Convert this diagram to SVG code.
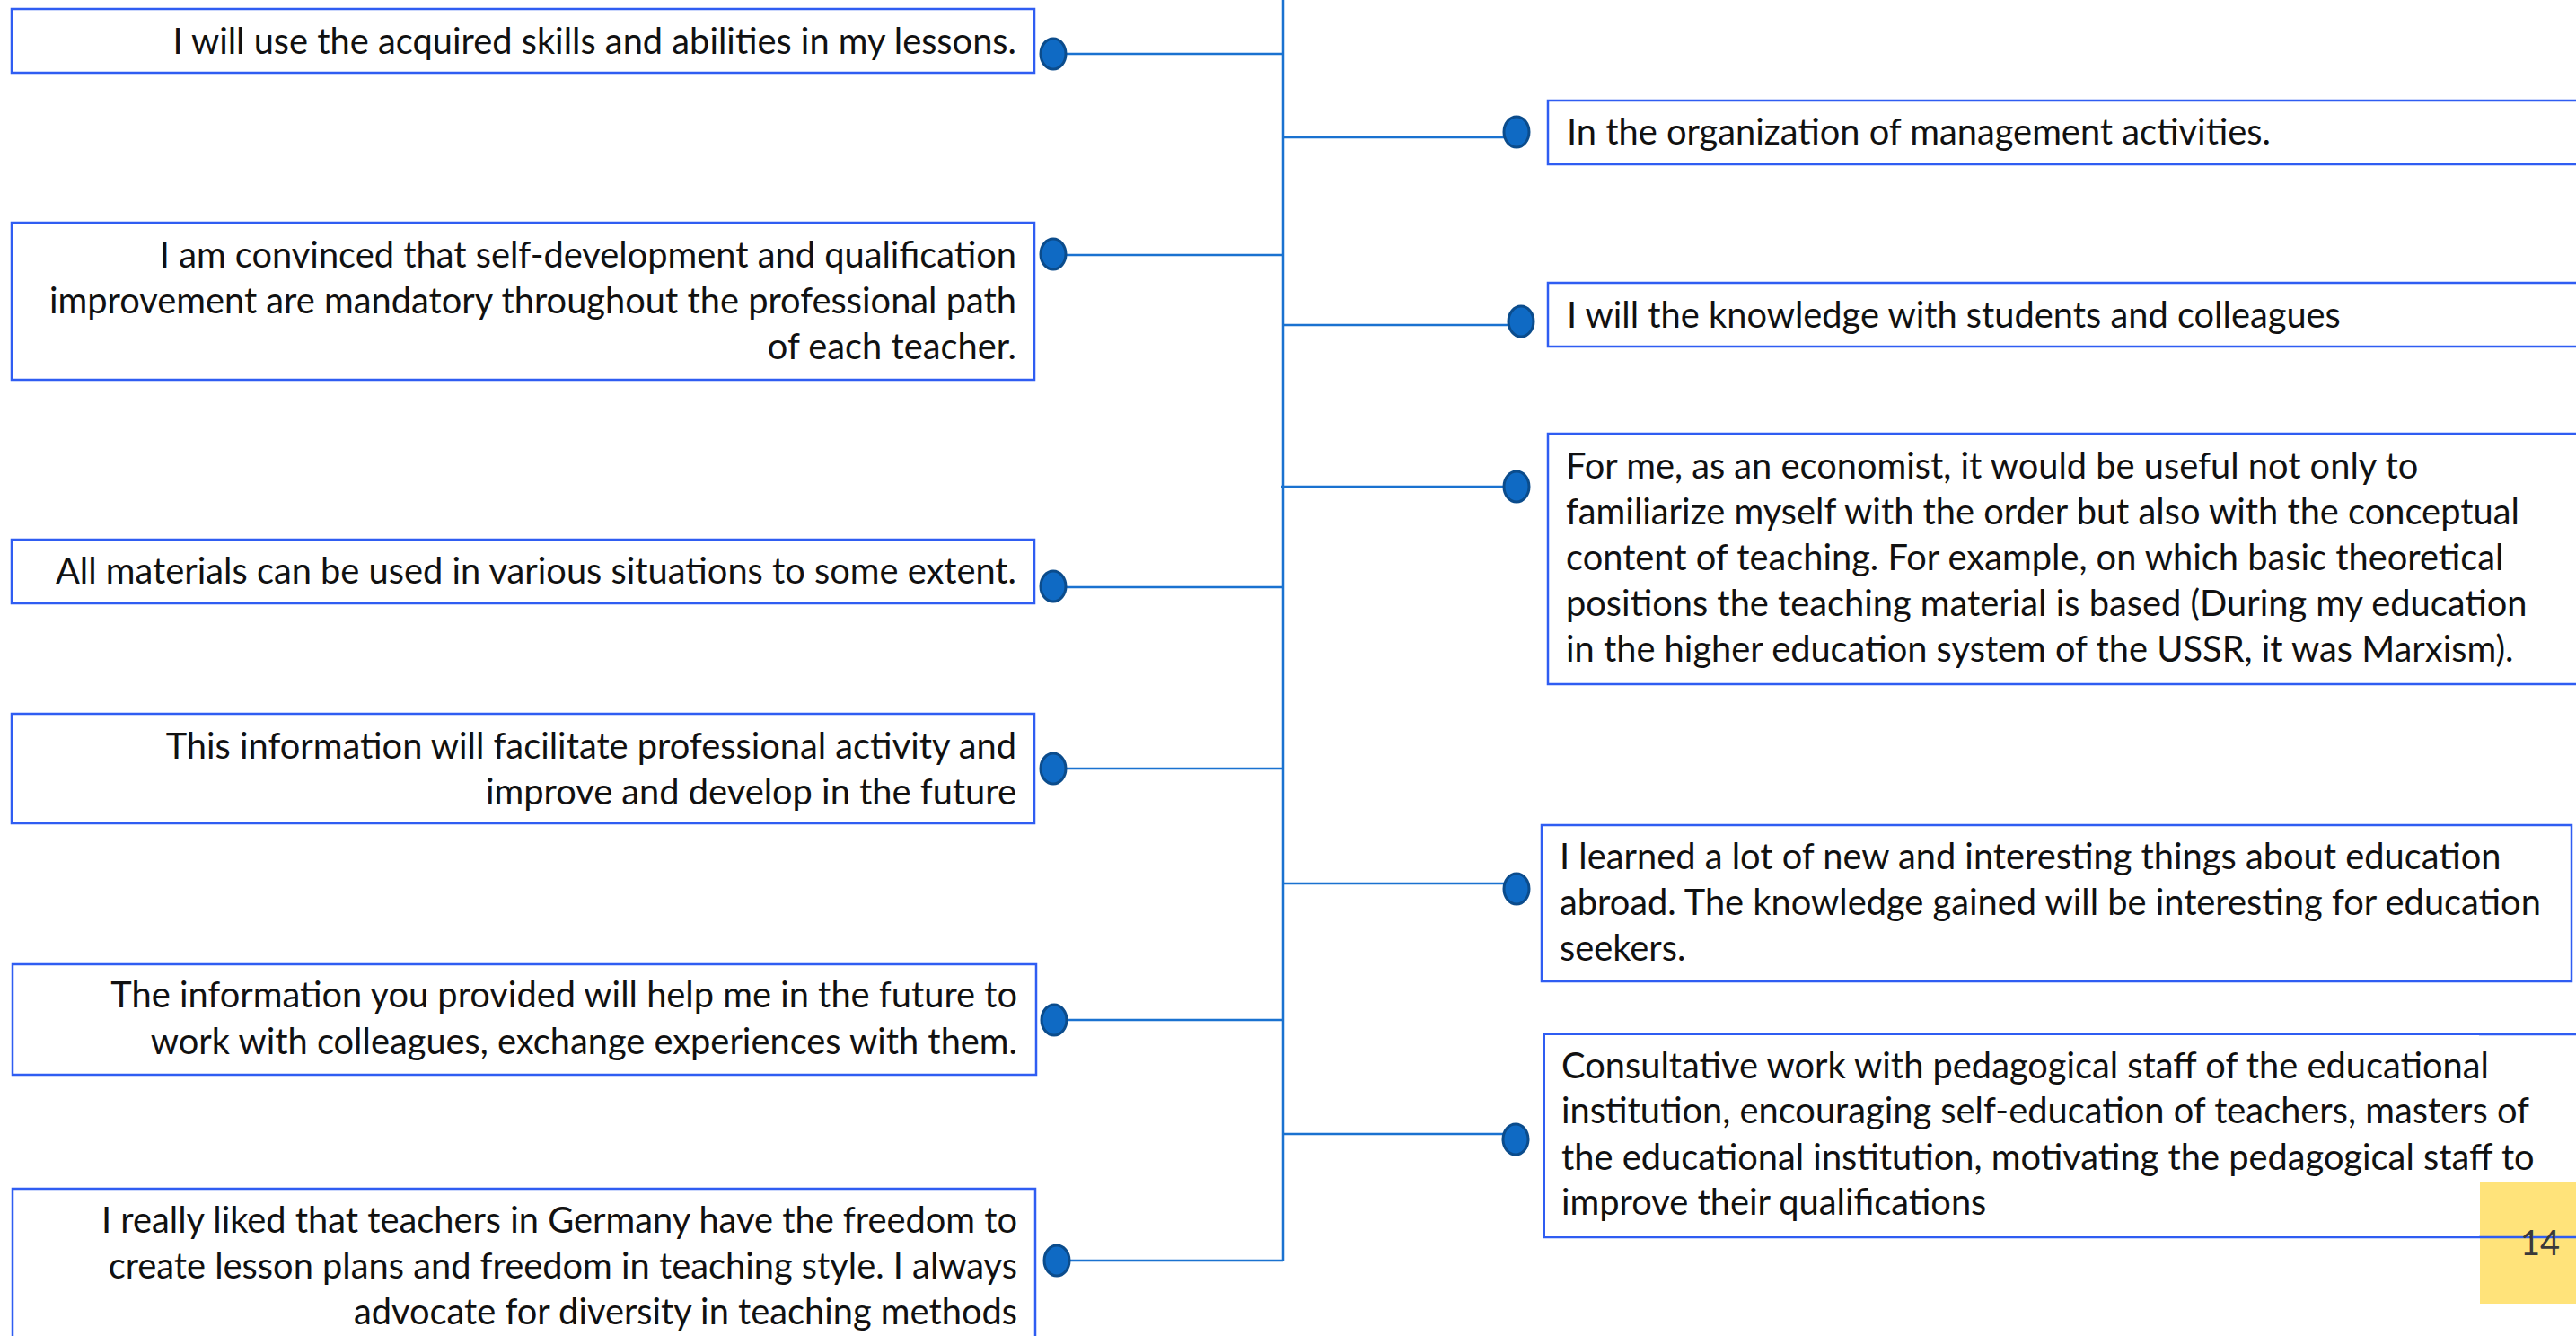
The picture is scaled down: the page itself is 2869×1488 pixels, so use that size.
<svg xmlns="http://www.w3.org/2000/svg" width="2869" height="1488" viewBox="0 0 2869 1488">
<style>
.box{fill:#fff;stroke:#2F5DF2;stroke-width:2.5}
.t{font-family:Lato,"Liberation Sans",sans-serif;font-size:39.8px;fill:#111}
.l{text-anchor:end}
.c{fill:none;stroke:#1A72D0;stroke-width:2.5}
.dot{fill:#0F6AC4;stroke:#0B4C8C;stroke-width:3}
</style>
<rect width="2869" height="1488" fill="#fff"/>
<g id="connectors">
<path class="c" d="M1429 0V1404"/>
<path class="c" d="M1187 60H1429M1187 284H1429M1187 654H1429M1187 856H1429M1188 1136H1429M1191 1404H1429"/>
<path class="c" d="M1429 153H1675M1429 362H1680M1427 542H1675M1429 984H1675M1429 1263H1674"/>
</g>
<g id="L1"><rect class="box" x="13" y="10" width="1139" height="71"/><ellipse class="dot" cx="1173" cy="60" rx="14" ry="17"/>
<text class="t l" x="1132" y="60">I will use the acquired skills and abilities in my lessons.</text></g>
<g id="L2"><rect class="box" x="13" y="248" width="1139" height="175"/><ellipse class="dot" cx="1173" cy="283" rx="14" ry="17"/>
<text class="t l" x="1132" y="298">I am convinced that self-development and qualification</text>
<text class="t l" x="1132" y="349">improvement are mandatory throughout the professional path</text>
<text class="t l" x="1132" y="400">of each teacher.</text></g>
<g id="L3"><rect class="box" x="13" y="601" width="1139" height="71"/><ellipse class="dot" cx="1173" cy="653" rx="14" ry="17"/>
<text class="t l" x="1132" y="650">All materials can be used in various situations to some extent.</text></g>
<g id="L4"><rect class="box" x="13" y="795" width="1139" height="122"/><ellipse class="dot" cx="1173" cy="856" rx="14" ry="17"/>
<text class="t l" x="1132" y="845">This information will facilitate professional activity and</text>
<text class="t l" x="1132" y="896">improve and develop in the future</text></g>
<g id="L5"><rect class="box" x="14" y="1074" width="1140" height="123"/><ellipse class="dot" cx="1174" cy="1136" rx="14" ry="17"/>
<text class="t l" x="1133" y="1122">The information you provided will help me in the future to</text>
<text class="t l" x="1133" y="1174">work with colleagues, exchange experiences with them.</text></g>
<g id="L6"><rect class="box" x="14" y="1324" width="1139" height="180"/><ellipse class="dot" cx="1177" cy="1404" rx="14" ry="17"/>
<text class="t l" x="1133" y="1373">I really liked that teachers in Germany have the freedom to</text>
<text class="t l" x="1133" y="1424">create lesson plans and freedom in teaching style. I always</text>
<text class="t l" x="1133" y="1475">advocate for diversity in teaching methods</text></g>
<g id="R1"><rect class="box" x="1724" y="112" width="1160" height="71"/><ellipse class="dot" cx="1689" cy="147" rx="14" ry="17"/>
<text class="t" x="1745" y="161">In the organization of management activities.</text></g>
<g id="R2"><rect class="box" x="1724" y="315" width="1160" height="71"/><ellipse class="dot" cx="1694" cy="358" rx="14" ry="17"/>
<text class="t" x="1745" y="365">I will the knowledge with students and colleagues</text></g>
<g id="R3"><rect class="box" x="1724" y="483" width="1160" height="279"/><ellipse class="dot" cx="1689" cy="542" rx="14" ry="17"/>
<text class="t" x="1744" y="533">For me, as an economist, it would be useful not only to</text>
<text class="t" x="1744" y="584">familiarize myself with the order but also with the conceptual</text>
<text class="t" x="1744" y="635">content of teaching. For example, on which basic theoretical</text>
<text class="t" x="1744" y="686">positions the teaching material is based (During my education</text>
<text class="t" x="1744" y="737">in the higher education system of the USSR, it was Marxism).</text></g>
<g id="R4"><rect class="box" x="1717" y="919" width="1147" height="174"/><ellipse class="dot" cx="1689" cy="990" rx="14" ry="17"/>
<text class="t" x="1737" y="968">I learned a lot of new and interesting things about education</text>
<text class="t" x="1737" y="1019">abroad. The knowledge gained will be interesting for education</text>
<text class="t" x="1737" y="1070">seekers.</text></g>
<g id="page"><rect x="2762" y="1316" width="107" height="136" fill="#FFE37A"/></g>
<g id="R5"><rect class="box" x="1720" y="1152" width="1160" height="226" style="fill:none"/><rect x="1721" y="1153" width="1040" height="224" fill="#fff"/><ellipse class="dot" cx="1688" cy="1269" rx="14" ry="17"/>
<text class="t" x="1739" y="1201">Consultative work with pedagogical staff of the educational</text>
<text class="t" x="1739" y="1251">institution, encouraging self-education of teachers, masters of</text>
<text class="t" x="1739" y="1303">the educational institution, motivating the pedagogical staff to</text>
<text class="t" x="1739" y="1353">improve their qualifications</text></g>
<text x="2851" y="1398" text-anchor="end" style="font-family:Lato,'Liberation Sans',sans-serif;font-size:38px;fill:#3A3A3A">14</text>
</svg>
